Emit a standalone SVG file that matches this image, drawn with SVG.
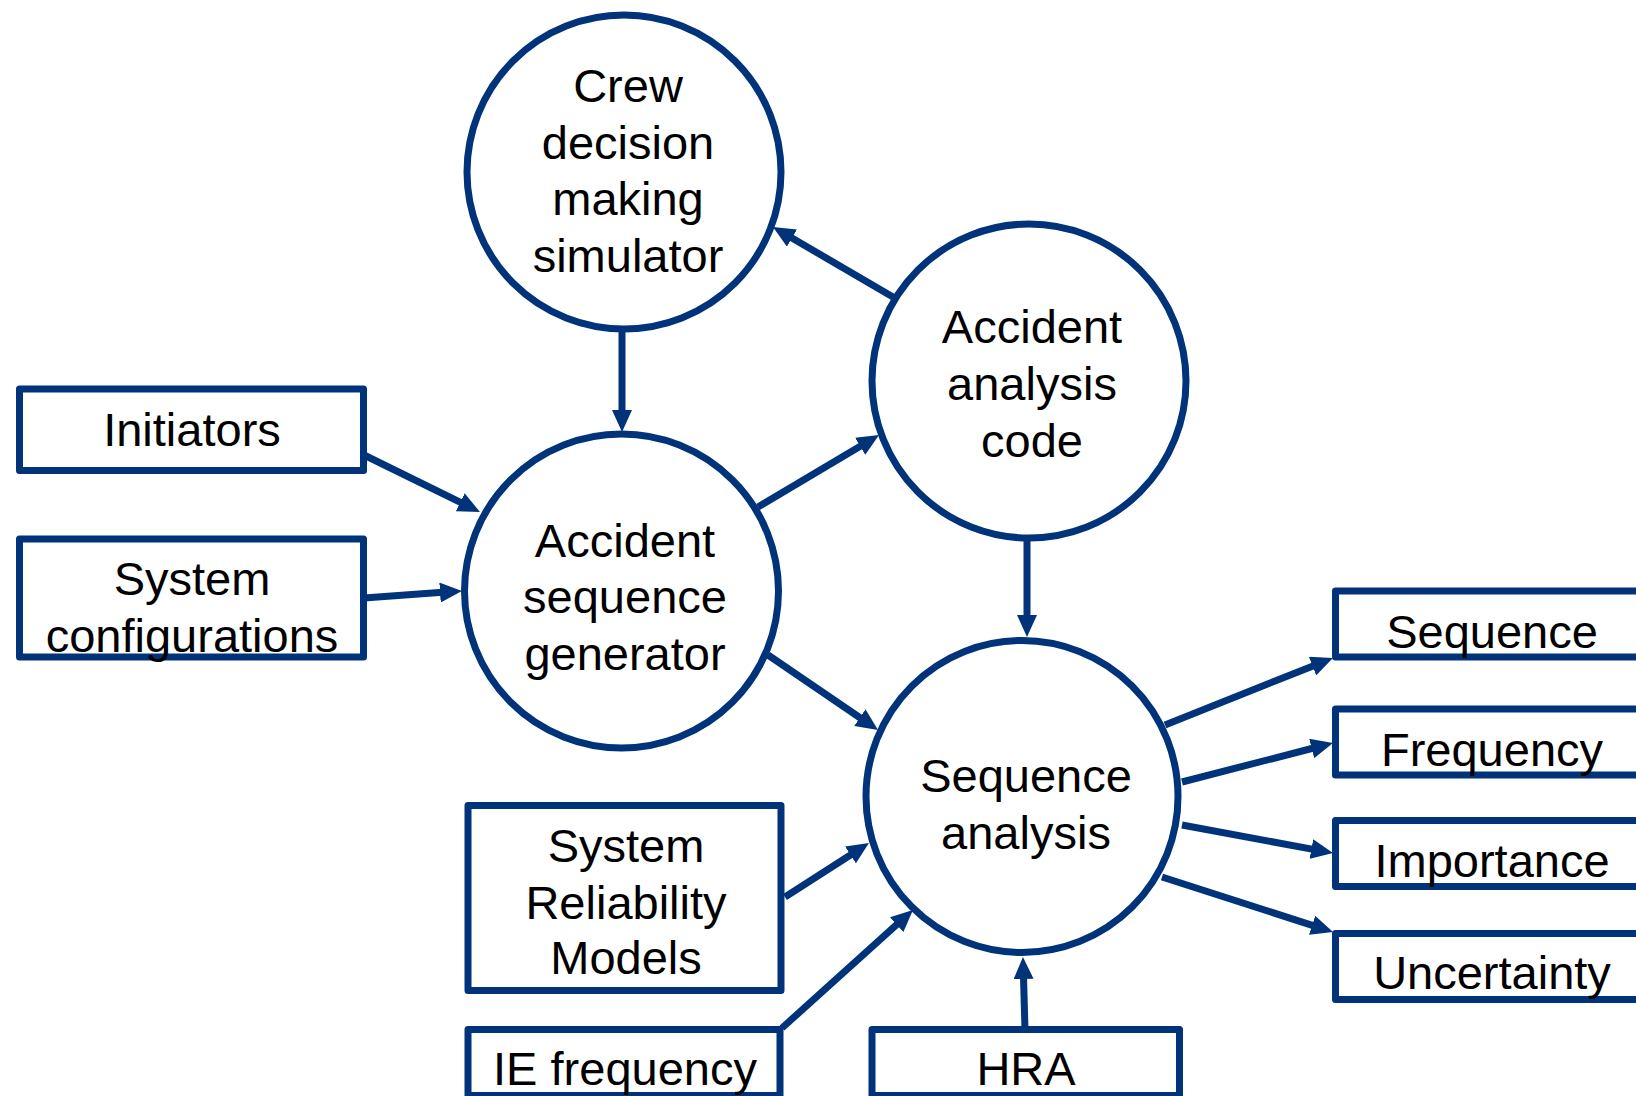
<svg xmlns="http://www.w3.org/2000/svg" width="1636" height="1096" viewBox="0 0 1636 1096">
  <style>
    .node { fill: #ffffff; stroke: #00337a; stroke-width: 7; stroke-linejoin: round; }
    .lbl { font-family: "Liberation Sans", Arial, sans-serif; font-size: 47px; fill: #000000; text-anchor: middle; }
    .edge { stroke: #00337a; stroke-width: 7; fill: none; marker-end: url(#arrow); }
  </style>
  <defs>
    <marker id="arrow" markerUnits="userSpaceOnUse" viewBox="0 0 22 20" markerWidth="22" markerHeight="20" refX="6" refY="10" orient="auto">
      <path d="M0,0 L22,10 L0,20 z" fill="#00337a"/>
    </marker>
  </defs>

  <g id="connectors">
    <line class="edge" x1="622" y1="330" x2="622" y2="416"/>
    <line class="edge" x1="893" y1="297" x2="786.8" y2="235"/>
    <line class="edge" x1="364" y1="455" x2="465.6" y2="504.9"/>
    <line class="edge" x1="364" y1="598" x2="446" y2="592.1"/>
    <line class="edge" x1="758" y1="507" x2="865.3" y2="443.2"/>
    <line class="edge" x1="768" y1="655" x2="864.8" y2="721"/>
    <line class="edge" x1="1027" y1="538" x2="1027" y2="621"/>
    <line class="edge" x1="1165" y1="725" x2="1318.1" y2="663.9"/>
    <line class="edge" x1="1182" y1="782" x2="1317.5" y2="747"/>
    <line class="edge" x1="1182" y1="825" x2="1317.3" y2="850.1"/>
    <line class="edge" x1="1162" y1="877" x2="1317.8" y2="927.1"/>
    <line class="edge" x1="785" y1="897" x2="855.5" y2="851.7"/>
    <line class="edge" x1="782" y1="1028" x2="901.1" y2="920.7"/>
    <line class="edge" x1="1025" y1="1030" x2="1023.4" y2="973"/>
  </g>

  <g id="crew">
    <circle class="node" cx="624" cy="172" r="157"/>
    <text class="lbl" x="628" y="102">Crew</text>
    <text class="lbl" x="628" y="159">decision</text>
    <text class="lbl" x="628" y="215">making</text>
    <text class="lbl" x="628" y="272">simulator</text>
  </g>

  <g id="analysis-code">
    <circle class="node" cx="1029" cy="381" r="157"/>
    <text class="lbl" x="1032" y="343">Accident</text>
    <text class="lbl" x="1032" y="400">analysis</text>
    <text class="lbl" x="1032" y="457">code</text>
  </g>

  <g id="sequence-generator">
    <circle class="node" cx="621.5" cy="591" r="157"/>
    <text class="lbl" x="625" y="557">Accident</text>
    <text class="lbl" x="625" y="613">sequence</text>
    <text class="lbl" x="625" y="670">generator</text>
  </g>

  <g id="sequence-analysis">
    <circle class="node" cx="1022" cy="796.5" r="156"/>
    <text class="lbl" x="1026" y="792">Sequence</text>
    <text class="lbl" x="1026" y="849">analysis</text>
  </g>

  <g id="initiators">
    <rect class="node" x="19.5" y="389" width="344" height="81.5"/>
    <text class="lbl" x="192" y="446">Initiators</text>
  </g>

  <g id="system-configurations">
    <rect class="node" x="19.5" y="539" width="344" height="118"/>
    <text class="lbl" x="192" y="595">System</text>
    <text class="lbl" x="192" y="652">configurations</text>
  </g>

  <g id="system-reliability-models">
    <rect class="node" x="468" y="805.5" width="313" height="185"/>
    <text class="lbl" x="626" y="862">System</text>
    <text class="lbl" x="626" y="919">Reliability</text>
    <text class="lbl" x="626" y="974">Models</text>
  </g>

  <g id="ie-frequency">
    <rect class="node" x="468" y="1029.5" width="312" height="66"/>
    <text class="lbl" x="625" y="1085">IE frequency</text>
  </g>

  <g id="hra">
    <rect class="node" x="872" y="1029.5" width="307.5" height="66"/>
    <text class="lbl" x="1026" y="1085">HRA</text>
  </g>

  <g id="out-sequence">
    <rect class="node" x="1335.5" y="591" width="313" height="66"/>
    <text class="lbl" x="1492" y="648">Sequence</text>
  </g>

  <g id="out-frequency">
    <rect class="node" x="1335.5" y="709" width="313" height="66"/>
    <text class="lbl" x="1492" y="766">Frequency</text>
  </g>

  <g id="out-importance">
    <rect class="node" x="1335.5" y="820.5" width="313" height="66"/>
    <text class="lbl" x="1492" y="877">Importance</text>
  </g>

  <g id="out-uncertainty">
    <rect class="node" x="1335.5" y="933.5" width="313" height="66"/>
    <text class="lbl" x="1492" y="989">Uncertainty</text>
  </g>
</svg>
